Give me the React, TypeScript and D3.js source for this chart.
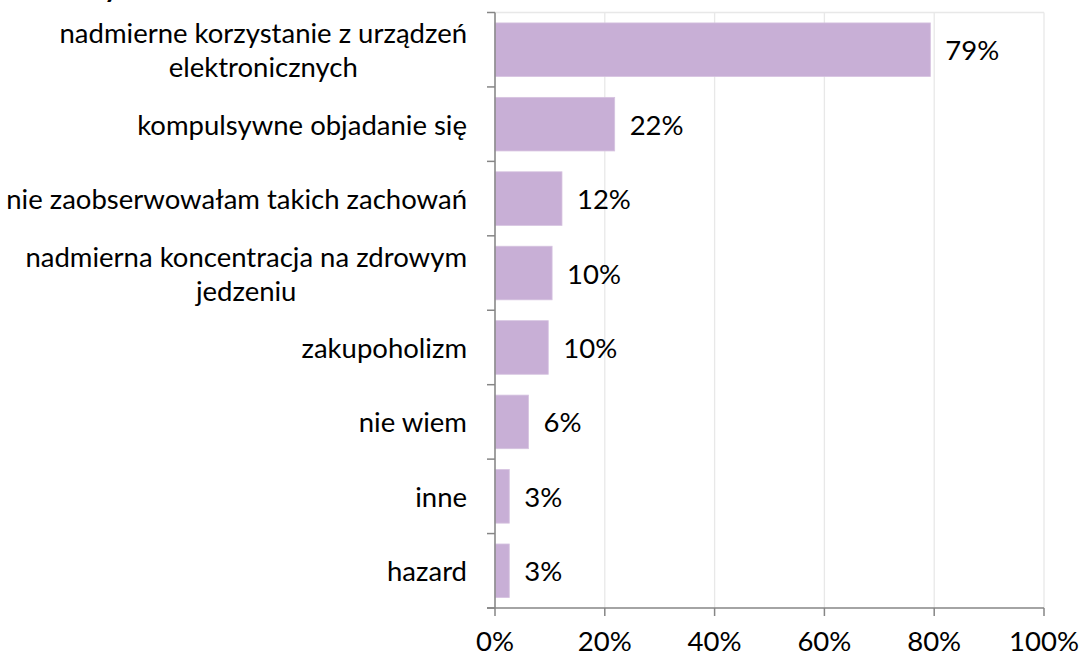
import React from "react";
import * as d3 from "d3";

const categories: string[][] = [
  ["nadmierne korzystanie z urządzeń", "elektronicznych"],
  ["kompulsywne objadanie się"],
  ["nie zaobserwowałam takich zachowań"],
  ["nadmierna koncentracja na zdrowym", "jedzeniu"],
  ["zakupoholizm"],
  ["nie wiem"],
  ["inne"],
  ["hazard"],
];
const values: number[] = [79.3, 21.8, 12.2, 10.4, 9.7, 6.1, 2.6, 2.6];
const valueLabels: string[] = ["79%", "22%", "12%", "10%", "10%", "6%", "3%", "3%"];
const xTicks: number[] = [0, 20, 40, 60, 80, 100];

const W = 1080;
const H = 655;
const left = 495;
const right = 1044;
const top = 12.5;
const bottom = 608;
const FONT = "Lato, 'Open Sans', sans-serif";
const FS = 27.5;

export default function App() {
  const x = d3.scaleLinear().domain([0, 100]).range([left, right]);
  const idx = categories.map((_, i) => String(i));
  const y = d3.scaleBand().domain(idx).range([top, bottom]).paddingInner(0.28).paddingOuter(0.14);
  const step = y.step();
  const boundaries = d3.range(categories.length + 1).map((i) => top + i * step);

  return (
    <svg width={W} height={H} style={{ position: "absolute", left: 0, top: 0, background: "#fff" }}>
      {/* clipped title fragment */}
      <text x={104} y={-3} fontFamily={FONT} fontWeight="bold" fontSize={28} fill="#000">y</text>

      {/* gridlines */}
      {xTicks.map((t) => (
        <line key={"g" + t} x1={x(t)} x2={x(t)} y1={top} y2={bottom} stroke="#e8e8e8" strokeWidth={1.3} />
      ))}
      <line x1={left} x2={right} y1={top} y2={top} stroke="#e8e8e8" strokeWidth={1.3} />

      {/* bars */}
      {values.map((v, i) => (
        <rect key={"b" + i} x={x(0)} y={y(String(i))!} width={x(v) - x(0)} height={y.bandwidth()} fill="#c8afd6" stroke="#d6c3e0" strokeWidth={0.8} />
      ))}

      {/* value labels */}
      {values.map((v, i) => (
        <text key={"v" + i} x={x(v) + 15} y={y(String(i))! + y.bandwidth() / 2} dominantBaseline="central" fontFamily={FONT} fontSize={FS} fill="#000">
          {valueLabels[i]}
        </text>
      ))}

      {/* y axis */}
      <line x1={left} x2={left} y1={top} y2={bottom} stroke="#868686" strokeWidth={1.5} />
      {boundaries.map((b, i) => (
        <line key={"yt" + i} x1={left - 8} x2={left} y1={b} y2={b} stroke="#868686" strokeWidth={1.5} />
      ))}

      {/* x axis */}
      <line x1={left - 8} x2={right} y1={bottom} y2={bottom} stroke="#868686" strokeWidth={1.5} />
      {xTicks.map((t) => (
        <line key={"xt" + t} x1={x(t)} x2={x(t)} y1={bottom} y2={bottom + 8} stroke="#868686" strokeWidth={1.5} />
      ))}
      {xTicks.map((t) => (
        <text key={"xl" + t} x={x(t)} y={651} textAnchor="middle" fontFamily={FONT} fontSize={FS} fill="#000">
          {t + "%"}
        </text>
      ))}

      {/* category labels */}
      {categories.map((lines, i) => {
        const cy = y(String(i))! + y.bandwidth() / 2;
        const lh = 34;
        if (lines.length === 1) {
          return (
            <text key={"c" + i} x={467} y={cy} textAnchor="end" dominantBaseline="central" fontFamily={FONT} fontSize={FS} fill="#000">
              {lines[0]}
            </text>
          );
        }
        return (
          <CenteredBlock key={"c" + i} lines={lines} rightX={467} cy={cy} lh={lh} />
        );
      })}
    </svg>
  );
}

function CenteredBlock({ lines, rightX, cy, lh }: { lines: string[]; rightX: number; cy: number; lh: number }) {
  const ref = React.useRef<SVGGElement>(null);
  React.useEffect(() => {
    const g = ref.current;
    if (!g) return;
    const texts = Array.from(g.querySelectorAll("text")) as SVGTextElement[];
    const widths = texts.map((t) => t.getComputedTextLength());
    const maxW = Math.max(...widths);
    const cx = rightX - maxW / 2;
    texts.forEach((t) => t.setAttribute("x", String(cx)));
  }, [lines, rightX]);
  const n = lines.length;
  return (
    <g ref={ref}>
      {lines.map((l, k) => (
        <text key={k} x={rightX} y={cy + (k - (n - 1) / 2) * lh} textAnchor="middle" dominantBaseline="central" fontFamily={FONT} fontSize={FS} fill="#000">
          {l}
        </text>
      ))}
    </g>
  );
}
